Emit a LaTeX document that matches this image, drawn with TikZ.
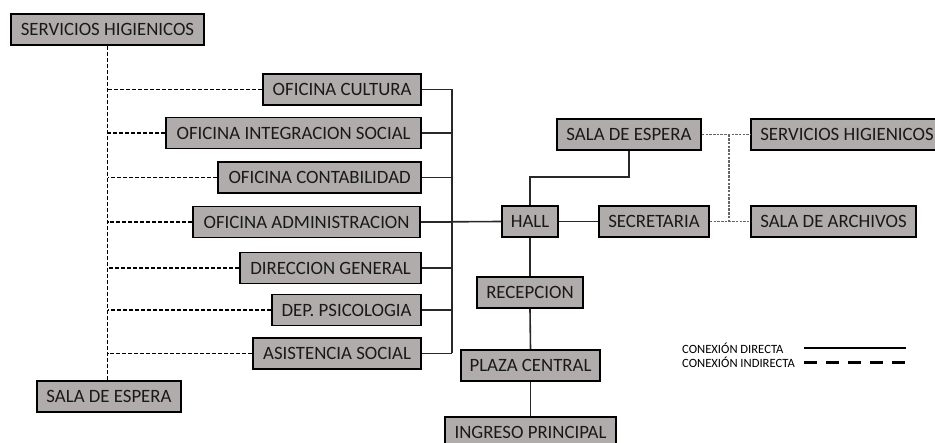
\documentclass[tikz,border=0pt]{standalone}
\usepackage{fontspec}
\setmainfont{Carlito}
\usepackage{tikz}
\usetikzlibrary{calc}
\usetikzlibrary{positioning}

\definecolor{cajagris}{RGB}{176,172,172}
\definecolor{trazo}{RGB}{40,40,40}

\tikzset{
  caja/.style={draw=black, line width=1.8pt, fill=cajagris, text=black!90,
    minimum height=31, inner sep=0pt, font=\fontsize{18.8}{20}\selectfont},
  directa/.style={draw=trazo, line width=1.6pt},
  indirecta/.style={draw=black, line width=1.5pt, dash pattern=on 4pt off 2pt},
  indirectagris/.style={draw=black!60, line width=1.3pt, dash pattern=on 2.5pt off 1.2pt},
  leyenda/.style={inner sep=0pt, anchor=west, font=\fontsize{12.6}{14}\selectfont}
}

\begin{document}
\begin{tikzpicture}[x=1pt,y=-1pt]
                \useasboundingbox (0,0) rectangle (935,443);
                % columna de oficinas
                \node[caja, minimum width=193] (sh1) at (107.5,29.5) {SERVICIOS HIGIENICOS};
                \node[caja, minimum width=158, anchor=east] (oc) at (422,89.5) {OFICINA CULTURA};
                \node[caja, minimum width=255, anchor=east] (ois) at (422,133) {OFICINA INTEGRACION SOCIAL};
                \node[caja, minimum width=203, anchor=east] (octb) at (422,177.5) {OFICINA CONTABILIDAD};
                \node[caja, minimum width=227, anchor=east] (oa) at (421,222) {OFICINA ADMINISTRACION};
                \node[caja, minimum width=181, anchor=east] (dg) at (422,268) {DIRECCION GENERAL};
                \node[caja, minimum width=149, anchor=east] (dp) at (422,310) {DEP. PSICOLOGIA};
                \node[caja, minimum width=168, anchor=east] (as) at (422,353.5) {ASISTENCIA SOCIAL};
                \node[caja, minimum width=144] (se1) at (109,396.5) {SALA DE ESPERA};
                % eje central
                \node[caja, minimum width=56] (hall) at (530,221.5) {HALL};
                \node[caja, minimum width=106] (rec) at (530,292.5) {RECEPCION};
                \node[caja, minimum width=139] (pc) at (530.5,365.5) {PLAZA CENTRAL};
                \node[caja, minimum width=171] (ip) at (530.5,432.5) {INGRESO PRINCIPAL};
                % lado derecho
                \node[caja, minimum width=144] (se2) at (629,134.5) {SALA DE ESPERA};
                \node[caja, minimum width=192] (sh2) at (847,134.5) {SERVICIOS HIGIENICOS};
                \node[caja, minimum width=110] (sec) at (654,221.5) {SECRETARIA};
                \node[caja, minimum width=165] (ar) at (833.5,221.5) {SALA DE ARCHIVOS};
                \coordinate (bus) at (452,0);
                \coordinate (quiebre) at (530,177);
                \coordinate (eje) at (729,0);

                % conexiones indirectas (izquierda)
                \draw[indirecta] (sh1.south) -- (sh1.south |- se1.north);
                \foreach \n in {oc,ois,octb,oa,dg,dp,as}
                    \draw[indirecta] (\n.west) -- (\n.west -| sh1.south);

                % conexiones directas
                \foreach \n in {oc,ois,octb,oa,dg,dp,as}
                    \draw[directa] (\n.east) -- (\n.east -| bus);
                \draw[directa] (oc.east -| bus) -- (as.east -| bus);
                \draw[directa] (oa.east) -- (hall.west);
                \draw[directa] (hall.east) -- (sec.west);
                \draw[directa] (hall.north) -- (quiebre) -| (se2.south);
                \draw[directa] (hall.south) -- (rec.north);
                \draw[directa] (rec.south) -- (pc.north);
                \draw[directa] (pc.south) -- (ip.north);

                % conexiones indirectas (derecha)
                \draw[indirectagris] (se2.east) -- (sh2.west);
                \draw[indirectagris] (sec.east) -- (ar.west);
                \draw[indirectagris] (se2.east -| eje) -- (sec.east -| eje);

                % leyenda
                \node[leyenda] (ld) at (682,348) {CONEXIÓN DIRECTA};
                \node[leyenda] (li) at (682,362) {CONEXIÓN INDIRECTA};
                \coordinate (ld1) at (804,348);
                \coordinate (ld2) at (906,348);
                \coordinate (li1) at (804,363);
                \coordinate (li2) at (906,363);
                \draw[directa, line width=1.4pt, draw=black] (ld1) -- (ld2);
                \draw[line width=3pt, dash pattern=on 13pt off 9pt] (li1) -- (li2);
\end{tikzpicture}
\end{document}
